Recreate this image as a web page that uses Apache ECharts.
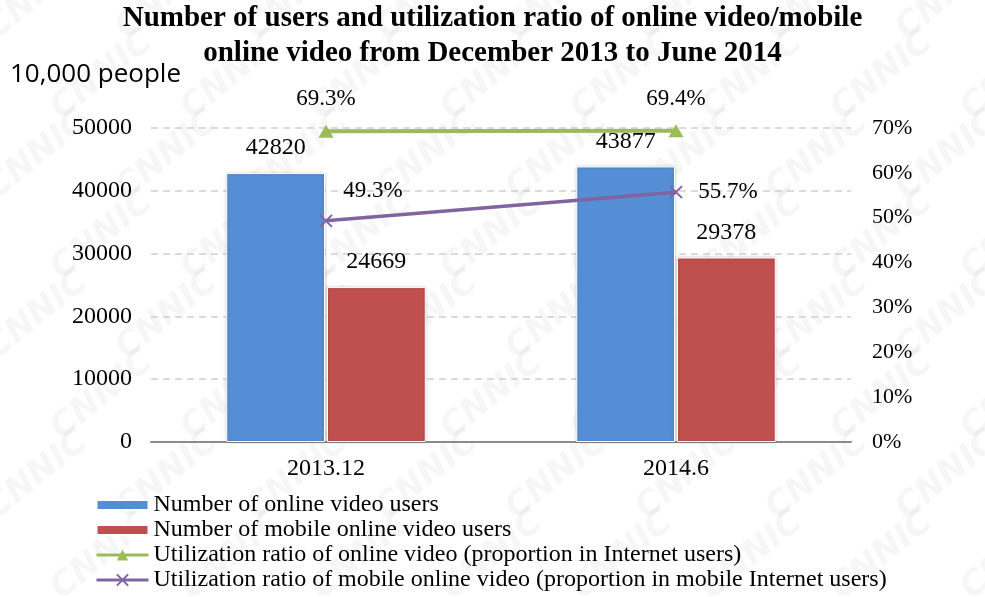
<!DOCTYPE html>
<html>
<head>
<meta charset="utf-8">
<title>Online video users</title>
<script src="https://cdn.jsdelivr.net/npm/echarts@6/dist/echarts.min.js"></script>
<style>
  html, body { margin: 0; padding: 0; background: #fff; }
  #chart { width: 985px; height: 597px; }
</style>
</head>
<body>
<div id="chart"></div>
<script>
// Periods on the category axis
const periods = ['2013.12', '2014.6'];
// User counts, unit: 10,000 people
const onlineVideoUsers = [42820, 43877];
const mobileVideoUsers = [24669, 29378];
// Utilization ratios, percent
const onlineVideoRatio = [69.3, 69.4];
const mobileVideoRatio = [49.3, 55.7];
// Axis ticks
const userTicks = { min: 0, max: 50000, interval: 10000 };
const ratioTicks = { min: 0, max: 70, interval: 10 };

const seriesNames = [
  'Number of online video users',
  'Number of mobile online video users',
  'Utilization ratio of online video (proportion in Internet users)',
  'Utilization ratio of mobile online video (proportion in mobile Internet users)'
];

const serif = '"Liberation Serif", "Times New Roman", serif';
const numberFont = { fontFamily: serif, fontSize: 24, color: '#000' };
const percentFont = { fontFamily: serif, fontSize: 23, color: '#000' };
const barIcon = 'path://M0,0H52V10H0Z';

// faint CNNIC watermark tiled over the background
const watermark = [];
for (let row = 0; row < 8; row++) {
  for (let col = 0; col < 9; col++) {
    watermark.push({
      type: 'text',
      x: col * 130 + (row % 2) * 65 - 20,
      y: row * 80 + 20,
      rotation: 0.68,
      z: -10,
      silent: true,
      style: {
        text: 'CNNIC',
        font: 'italic bold 34px "DejaVu Sans", sans-serif',
        fill: 'rgba(0,0,0,0.035)'
      }
    });
  }
}

const chart = echarts.init(document.getElementById('chart'));
chart.setOption({
  backgroundColor: '#fff',
  animation: false,
  title: {
    text: 'Number of users and utilization ratio of online video/mobile\nonline video from December 2013 to June 2014',
    left: 'center',
    top: 1,
    padding: 0,
    textStyle: {
      fontFamily: serif,
      fontWeight: 'bold',
      fontSize: 29,
      lineHeight: 35,
      color: '#000'
    }
  },
  graphic: watermark.concat([{
    type: 'text',
    left: 10,
    top: 62,
    style: {
      text: '10,000 people',
      font: '26px "Open Sans", sans-serif',
      fill: '#000'
    }
  }]),
  legend: {
    orient: 'vertical',
    left: 95,
    top: 493,
    height: 200,
    padding: 0,
    itemWidth: 52,
    itemHeight: 14,
    itemGap: 1,
    data: [
      { name: seriesNames[0], icon: barIcon },
      { name: seriesNames[1], icon: barIcon },
      { name: seriesNames[2], lineStyle: { width: 3 } },
      { name: seriesNames[3], lineStyle: { width: 3 } }
    ],
    textStyle: { fontFamily: serif, fontSize: 24, color: '#000', lineHeight: 24 }
  },
  grid: { left: 151, right: 134, top: 128, bottom: 155 },
  xAxis: {
    type: 'category',
    data: periods,
    axisLine: { lineStyle: { color: '#8a8a8a', width: 2 } },
    axisTick: { inside: true, length: 6, lineStyle: { color: '#8a8a8a', width: 2 } },
    axisLabel: Object.assign({ margin: 15 }, numberFont)
  },
  yAxis: [
    {
      type: 'value',
      min: userTicks.min,
      max: userTicks.max,
      interval: userTicks.interval,
      axisLine: { show: false },
      axisTick: { show: false },
      axisLabel: Object.assign({ margin: 19, formatter: v => String(v) }, numberFont),
      splitLine: { lineStyle: { color: '#cfcfcf', width: 1.5, type: [7, 5] } }
    },
    {
      type: 'value',
      min: ratioTicks.min,
      max: ratioTicks.max,
      interval: ratioTicks.interval,
      axisLine: { show: false },
      axisTick: { show: false },
      splitLine: { show: false },
      axisLabel: { margin: 21, formatter: '{value}%', fontFamily: serif, fontSize: 22, color: '#000' }
    }
  ],
  series: [
    {
      name: seriesNames[0],
      type: 'bar',
      data: onlineVideoUsers,
      barCategoryGap: '43%',
      barGap: '2%',
      itemStyle: { color: '#558ED5', borderColor: '#fff', borderWidth: 1, shadowBlur: 3, shadowColor: 'rgba(0,0,0,0.25)' },
      label: Object.assign({ show: true, position: 'top', distance: 13 }, numberFont)
    },
    {
      name: seriesNames[1],
      type: 'bar',
      data: mobileVideoUsers,
      itemStyle: { color: '#C0504D', borderColor: '#fff', borderWidth: 1, shadowBlur: 3, shadowColor: 'rgba(0,0,0,0.25)' },
      label: Object.assign({ show: true, position: 'top', distance: 13 }, numberFont)
    },
    {
      name: seriesNames[2],
      type: 'line',
      yAxisIndex: 1,
      data: onlineVideoRatio,
      symbol: 'triangle',
      symbolSize: [15, 13],
      lineStyle: { color: '#9BBB59', width: 4 },
      itemStyle: { color: '#9BBB59' },
      label: Object.assign({ show: true, position: 'inside', offset: [0, -32], formatter: '{c}%' }, percentFont),
      z: 5
    },
    {
      name: seriesNames[3],
      type: 'line',
      yAxisIndex: 1,
      data: [
        { value: mobileVideoRatio[0], label: { offset: [47, -30] } },
        { value: mobileVideoRatio[1], label: { offset: [52, 0] } }
      ],
      symbol: 'path://M0,0L10,10M10,0L0,10',
      symbolSize: 12,
      lineStyle: { color: '#8064A2', width: 3.5 },
      itemStyle: { color: 'rgba(0,0,0,0)', borderColor: '#8064A2', borderWidth: 2 },
      label: Object.assign({ show: true, position: 'inside', formatter: '{c}%' }, percentFont),
      z: 5
    }
  ]
});
</script>
</body>
</html>
